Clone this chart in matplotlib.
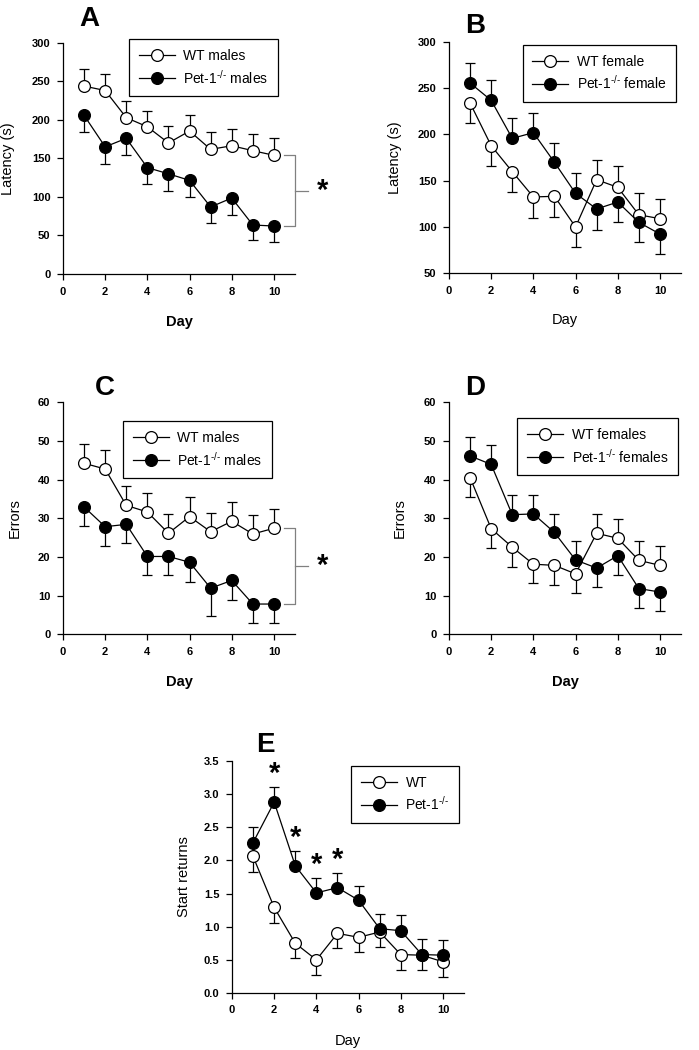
import matplotlib.pyplot as plt
import numpy as np

plt.rcParams['font.family'] = ['Liberation Sans', 'DejaVu Sans']
plt.rcParams['mathtext.fontset'] = 'custom'
plt.rcParams['mathtext.rm'] = 'Liberation Sans'
plt.rcParams['mathtext.default'] = 'regular'

days = np.arange(1, 11)

# A: latency, males
lat_wt_m = [243.8, 238, 202.8, 191, 170, 185.5, 161.7, 166.4, 160, 154]
lat_wt_m_sem = [21.6, 21, 22, 21, 22, 20.5, 22.3, 22.1, 21.6, 22]
lat_ko_m = [205.8, 165, 176, 138, 130, 121.5, 87, 98.6, 63.6, 62.3]
lat_ko_m_sem = [21.8, 22.3, 21.2, 21, 22, 21.5, 21, 22.1, 19.6, 21.3]

# B: latency, females
lat_wt_f = [234, 187.8, 159.7, 132.3, 133, 99.8, 151, 142.7, 113, 108.8]
lat_wt_f_sem = [21.7, 21.8, 22.4, 22.3, 22, 21.8, 21.7, 22.7, 23.2, 21.6]
lat_ko_f = [255.6, 236.9, 195.7, 201.9, 169.8, 136.2, 119.3, 126.8, 104.8, 92.2]
lat_ko_f_sem = [21.7, 21.6, 22, 21.6, 20.9, 22.4, 22.4, 22, 21.6, 21.2]

# C: errors, males
err_wt_m = [44.2, 42.7, 33.3, 31.6, 26.1, 30.4, 26.5, 29.2, 25.9, 27.4]
err_wt_m_sem = [5.0, 5.0, 4.9, 4.9, 4.9, 5.1, 4.9, 4.9, 4.9, 4.9]
err_ko_m = [32.9, 27.8, 28.4, 20.1, 20.1, 18.6, 11.9, 13.9, 7.8, 7.8]
err_ko_m_sem = [4.9, 4.9, 4.9, 4.9, 4.9, 5.0, 7.2, 5.0, 4.9, 4.9]

# D: errors, females
err_wt_f = [40.5, 27.3, 22.5, 18.1, 17.8, 15.6, 26.1, 24.8, 19.1, 17.8]
err_wt_f_sem = [5.0, 5.1, 5.0, 4.9, 5.1, 5.0, 5.0, 5.1, 4.9, 5.0]
err_ko_f = [46.1, 43.9, 30.9, 31.1, 26.3, 19.2, 17.1, 20.3, 11.8, 10.9]
err_ko_f_sem = [4.9, 4.9, 5.0, 5.0, 4.9, 5.0, 4.9, 5.1, 5.1, 4.9]

# E: start returns
ret_wt = [2.06, 1.29, 0.75, 0.50, 0.90, 0.84, 0.92, 0.58, 0.57, 0.47]
ret_wt_sem = [0.23, 0.23, 0.22, 0.23, 0.22, 0.22, 0.23, 0.23, 0.23, 0.23]
ret_ko = [2.27, 2.88, 1.92, 1.51, 1.59, 1.40, 0.97, 0.94, 0.58, 0.57]
ret_ko_sem = [0.23, 0.23, 0.22, 0.22, 0.22, 0.22, 0.22, 0.23, 0.23, 0.23]
ret_sig_days = [2, 3, 4, 5]

KO = r'Pet-1$^{\text{-/-}}$'


def panel(ax, wt, wt_sem, ko, ko_sem, labels, ylim, ystep, ylabel, day_bold,
          letter, letter_xy, leg_anchor, ylab_x, yfmt='%d'):
    wt, wt_sem, ko, ko_sem = map(np.asarray, (wt, wt_sem, ko, ko_sem))
    up = wt >= ko  # the upper curve gets the upward error bar
    z = np.zeros_like(wt_sem)
    ax.errorbar(days, wt, yerr=[np.where(up, z, wt_sem), np.where(up, wt_sem, z)],
                fmt='none', ecolor='black', elinewidth=0.9, capsize=3.5, capthick=0.9, zorder=2)
    ax.errorbar(days, ko, yerr=[np.where(up, ko_sem, z), np.where(up, z, ko_sem)],
                fmt='none', ecolor='black', elinewidth=0.9, capsize=3.5, capthick=0.9, zorder=2)
    l1, = ax.plot(days, wt, '-o', color='black', mfc='white', mec='black', ms=8.5,
                  mew=0.9, lw=0.9, zorder=3, clip_on=False, label=labels[0])
    l2, = ax.plot(days, ko, '-o', color='black', mfc='black', mec='black', ms=8.5,
                  mew=0.9, lw=0.9, zorder=4, clip_on=False, label=labels[1])

    ax.set_xlim(0, 11)
    ax.set_ylim(*ylim)
    ax.set_xticks(np.arange(0, 11, 2))
    ax.set_yticks(np.arange(ylim[0], ylim[1] + ystep / 2, ystep))
    ax.yaxis.set_major_formatter(plt.FormatStrFormatter(yfmt))
    for s in ['top', 'right']:
        ax.spines[s].set_visible(False)
    for s in ['left', 'bottom']:
        ax.spines[s].set_linewidth(0.9)
    ax.tick_params(direction='out', length=4, width=0.9, labelsize=8, pad=5)
    for t in ax.get_xticklabels() + ax.get_yticklabels():
        t.set_fontweight('bold')

    ax.set_xlabel('Day', fontsize=10.5, fontweight='bold' if day_bold else 'normal')
    ax.xaxis.set_label_coords(0.5, -0.175)
    ax.set_ylabel(ylabel, fontsize=10.5)
    ax.yaxis.set_label_coords(ylab_x, 0.5)

    ax.text(letter_xy[0], letter_xy[1], letter, transform=ax.transAxes,
            fontsize=20, fontweight='bold', va='baseline', ha='left')

    leg = ax.legend(handles=[l1, l2], loc='upper right', bbox_to_anchor=leg_anchor,
                    fontsize=10, frameon=True, fancybox=False, edgecolor='black',
                    framealpha=1, handlelength=2.6, handletextpad=0.6,
                    borderpad=0.7, labelspacing=0.4)
    leg.get_frame().set_linewidth(0.9)


def bracket(ax, y_top, y_bot):
    kw = dict(color='#808080', lw=0.9, clip_on=False)
    ax.plot([10.5, 11, 11, 10.5], [y_top, y_top, y_bot, y_bot], **kw)
    mid = (y_top + y_bot) / 2
    ax.plot([11, 11.6], [mid, mid], **kw)
    ax.text(12.3, mid, '*', fontsize=21, fontweight='bold', ha='center', va='center')


fig = plt.figure(figsize=(6.99, 10.5), dpi=100)

axA = fig.add_axes([0.0901, 0.739, 0.332, 0.2203])
panel(axA, lat_wt_m, lat_wt_m_sem, lat_ko_m, lat_ko_m_sem, ['WT males', KO + ' males'],
      (0, 300), 50, 'Latency (s)', True, 'A', (0.069, 1.074), (0.957, 1.046), -0.207)
bracket(axA, lat_wt_m[-1], lat_ko_m[-1])

axB = fig.add_axes([0.6423, 0.740, 0.332, 0.2200])
panel(axB, lat_wt_f, lat_wt_f_sem, lat_ko_f, lat_ko_f_sem, ['WT female', KO + ' female'],
      (50, 300), 50, 'Latency (s)', False, 'B', (0.069, 1.039), (1.009, 1.017), -0.203)

axC = fig.add_axes([0.0901, 0.396, 0.332, 0.221])
panel(axC, err_wt_m, err_wt_m_sem, err_ko_m, err_ko_m_sem, ['WT males', KO + ' males'],
      (0, 60), 10, 'Errors', True, 'C', (0.138, 1.030), (0.931, 0.948), -0.177)
bracket(axC, err_wt_m[-1], err_ko_m[-1])

axD = fig.add_axes([0.6423, 0.396, 0.332, 0.221])
panel(axD, err_wt_f, err_wt_f_sem, err_ko_f, err_ko_f_sem, ['WT females', KO + ' females'],
      (0, 60), 10, 'Errors', True, 'D', (0.069, 1.030), (1.017, 0.961), -0.181)

axE = fig.add_axes([0.3319, 0.0543, 0.332, 0.2209])
panel(axE, ret_wt, ret_wt_sem, ret_ko, ret_ko_sem, ['WT', KO],
      (0, 3.5), 0.5, 'Start returns', False, 'E', (0.103, 1.039), (1.009, 1.009), -0.178,
      yfmt='%.1f')
for d in ret_sig_days:
    i = d - 1
    axE.text(d, ret_ko[i] + ret_ko_sem[i] + 0.2, '*', fontsize=21, fontweight='bold',
             ha='center', va='center')

fig.savefig('out.png', dpi=100)
